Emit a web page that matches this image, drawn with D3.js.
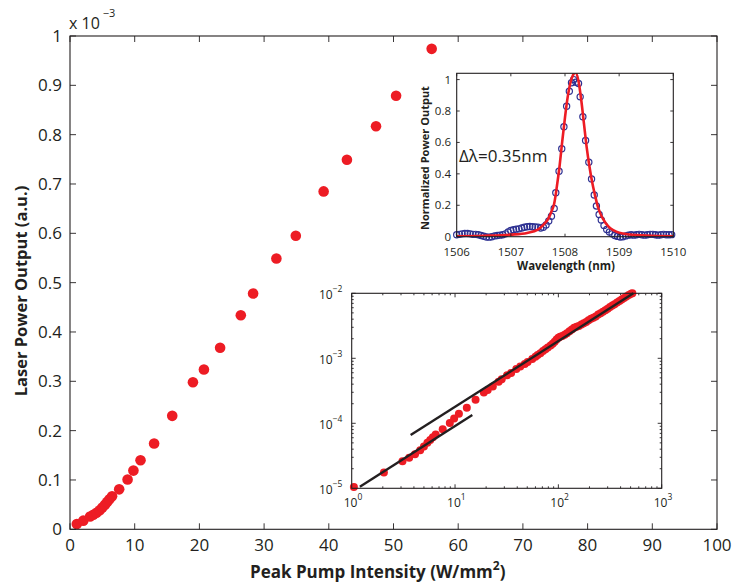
<!DOCTYPE html>
<html><head><meta charset="utf-8">
<script src="https://cdn.jsdelivr.net/npm/d3@7"></script>
<style>
body{margin:0;background:#fff}
text{font-family:"Open Sans",sans-serif;fill:#231f20}
</style>
</head><body>
<svg id="c" width="732" height="587"></svg>
<script>
// ---------- DATA ----------
// Main scatter (also shown in log-log inset)
const mainIntensity = [1.05,2.05,3.1,3.6,4.1,4.6,5.0,5.4,5.75,6.1,6.5,7.6,8.9,9.8,10.9,13.0,15.8,19.0,20.7,23.2,26.4,28.3,31.9,34.9,39.2,42.8,47.3,50.4,55.9];
const mainPower = [1.05e-5,1.75e-5,2.6e-5,2.95e-5,3.35e-5,3.85e-5,4.4e-5,5.0e-5,5.55e-5,6.1e-5,6.7e-5,8.1e-5,1.01e-4,1.19e-4,1.40e-4,1.74e-4,2.30e-4,2.98e-4,3.24e-4,3.68e-4,4.34e-4,4.78e-4,5.49e-4,5.95e-4,6.85e-4,7.49e-4,8.17e-4,8.79e-4,9.74e-4];
// Higher intensity points (only visible in log-log inset)
const extIntensity = [60,63,67,71,75,79,84,88,92,96,100,104,109,115,121,128,135,142,150,158,167,176,186,196,207,218,230,243,256,270,285,300,316,333,350,370,390,410,432,455,480,505,520];
const extPower = [1.06e-3,1.12e-3,1.2e-3,1.3e-3,1.38e-3,1.47e-3,1.58e-3,1.68e-3,1.8e-3,1.95e-3,2.08e-3,2.15e-3,2.2e-3,2.3e-3,2.42e-3,2.6e-3,2.78e-3,2.95e-3,3.05e-3,3.15e-3,3.3e-3,3.45e-3,3.62e-3,3.85e-3,4.05e-3,4.2e-3,4.4e-3,4.7e-3,4.95e-3,5.2e-3,5.5e-3,5.8e-3,6.15e-3,6.5e-3,6.8e-3,7.2e-3,7.6e-3,8.0e-3,8.45e-3,8.9e-3,9.4e-3,9.85e-3,1.0e-2];
// Fit lines in log-log inset (endpoints)
const fitLowX = [1.2, 14.7];
const fitLowY = [1.06e-5, 1.34e-4];
const fitHighX = [3.72, 532];
const fitHighY = [6.6e-5, 1.0e-2];
// Spectrum (measured, open circles)
const specWavelength = [1506.00,1506.05,1506.10,1506.15,1506.20,1506.25,1506.30,1506.35,1506.40,1506.45,1506.50,1506.55,1506.60,1506.65,1506.70,1506.75,1506.80,1506.85,1506.90,1506.95,1507.00,1507.05,1507.10,1507.15,1507.20,1507.25,1507.30,1507.35,1507.40,1507.45,1507.50,1507.55,1507.60,1507.65,1507.70,1507.75,1507.80,1507.83,1507.89,1507.94,1507.98,1508.03,1508.08,1508.12,1508.16,1508.20,1508.25,1508.28,1508.33,1508.38,1508.44,1508.49,1508.54,1508.58,1508.63,1508.67,1508.72,1508.77,1508.82,1508.87,1508.92,1508.97,1509.02,1509.07,1509.12,1509.17,1509.22,1509.27,1509.32,1509.37,1509.42,1509.47,1509.52,1509.57,1509.62,1509.67,1509.72,1509.77,1509.82,1509.87,1509.92,1509.97];
const specPower = [0.012,0.015,0.018,0.02,0.02,0.018,0.015,0.015,0.012,0.008,0.003,-0.002,-0.003,0.0,0.005,0.008,0.01,0.012,0.018,0.03,0.04,0.045,0.048,0.05,0.055,0.06,0.063,0.065,0.063,0.062,0.06,0.055,0.06,0.075,0.1,0.13,0.18,0.28,0.417,0.56,0.70,0.83,0.926,0.98,1.0,0.983,0.975,0.89,0.763,0.612,0.474,0.368,0.265,0.195,0.142,0.106,0.072,0.046,0.03,0.018,0.008,0.002,-0.002,0.0,0.005,0.01,0.012,0.01,0.012,0.015,0.012,0.01,0.012,0.015,0.015,0.012,0.01,0.012,0.015,0.012,0.012,0.013];
// Spectrum fit (red line)
const fitWavelength = [1506.0,1506.5,1507.0,1507.3,1507.5,1507.6,1507.7,1507.75,1507.8,1507.85,1507.9,1507.95,1508.0,1508.05,1508.1,1508.15,1508.19,1508.25,1508.3,1508.35,1508.4,1508.45,1508.5,1508.55,1508.6,1508.65,1508.7,1508.8,1508.9,1509.0,1509.2,1509.5,1510.0];
const fitPower = [0.003,0.006,0.013,0.024,0.045,0.075,0.12,0.16,0.21,0.32,0.45,0.61,0.76,0.89,0.98,1.03,1.045,0.99,0.87,0.72,0.57,0.45,0.35,0.27,0.2,0.15,0.115,0.065,0.04,0.025,0.014,0.008,0.003];
// Ticks
const mainXTicks = [0,10,20,30,40,50,60,70,80,90,100];
const mainYTicks = [0,1e-4,2e-4,3e-4,4e-4,5e-4,6e-4,7e-4,8e-4,9e-4,1e-3];
const mainYTickLabels = ["0","0.1","0.2","0.3","0.4","0.5","0.6","0.7","0.8","0.9","1"];
const specXTicks = [1506,1507,1508,1509,1510];
const specYTicks = [0,0.2,0.4,0.6,0.8,1];
const specYTickLabels = ["0","0.2","0.4","0.6","0.8","1"];
const logXTicks = [1,10,100,1000];
const logXExp = ["0","1","2","3"];
const logYTicks = [1e-5,1e-4,1e-3,1e-2];
const logYExp = ["\u22125","\u22124","\u22123","\u22122"];

// ---------- DRAW ----------
const svg = d3.select("#c");
svg.append("rect").attr("width",732).attr("height",587).attr("fill","#fff");
const RED = "#ed1c24", NAVY = "#2e3192";

function boxTicks(g, x, y, xt, yt, len, cls){
  const [x0,x1] = x.range(), [y0,y1] = y.range();
  g.append("g").attr("class",cls).selectAll("line.xb").data(xt).join("line")
    .attr("x1",d=>x(d)).attr("x2",d=>x(d)).attr("y1",y0).attr("y2",y0-len);
  g.append("g").attr("class",cls).selectAll("line.xt").data(xt).join("line")
    .attr("x1",d=>x(d)).attr("x2",d=>x(d)).attr("y1",y1).attr("y2",y1+len);
  g.append("g").attr("class",cls).selectAll("line.yl").data(yt).join("line")
    .attr("y1",d=>y(d)).attr("y2",d=>y(d)).attr("x1",x0).attr("x2",x0+len);
  g.append("g").attr("class",cls).selectAll("line.yr").data(yt).join("line")
    .attr("y1",d=>y(d)).attr("y2",d=>y(d)).attr("x1",x1).attr("x2",x1-len);
  g.selectAll("."+cls+" line").attr("stroke","#231f20").attr("stroke-width",0.9);
}

// Main plot
const mx = d3.scaleLinear().domain([0,100]).range([70,717]);
const my = d3.scaleLinear().domain([0,1e-3]).range([529.3,36]);
const gm = svg.append("g");
svg.append("clipPath").attr("id","mclip").append("rect")
  .attr("x",70).attr("y",36).attr("width",647).attr("height",493.3);
gm.append("g").attr("clip-path","url(#mclip)").selectAll("circle")
  .data(d3.zip(mainIntensity.concat(extIntensity), mainPower.concat(extPower))).join("circle")
  .attr("cx",d=>mx(d[0])).attr("cy",d=>my(d[1])).attr("r",5.3).attr("fill",RED);
boxTicks(gm, mx, my, mainXTicks, mainYTicks, 6, "mt");
gm.append("rect").attr("x",70).attr("y",36).attr("width",647).attr("height",493.3)
  .attr("fill","none").attr("stroke","#231f20").attr("stroke-width",1.1);
gm.append("g").selectAll("text").data(mainXTicks).join("text")
  .attr("x",d=>mx(d)).attr("y",551).attr("text-anchor","middle")
  .attr("font-size",17).text(d=>d);
gm.append("g").selectAll("text").data(mainYTicks).join("text")
  .attr("x",62).attr("y",d=>my(d)+6).attr("text-anchor","end")
  .attr("font-size",17).text((d,i)=>mainYTickLabels[i]);
const ex = gm.append("text").attr("x",69).attr("y",29).attr("font-size",16);
ex.append("tspan").text("x 10");
ex.append("tspan").attr("dx",3).attr("dy",-12).attr("font-size",11).text("\u22123");
gm.append("text").attr("transform","translate(27,291) rotate(-90)")
  .attr("text-anchor","middle").attr("font-size",16.5).attr("font-weight","bold")
  .text("Laser Power Output (a.u.)");
const xl = gm.append("text").attr("x",250).attr("y",578).attr("font-size",17).attr("font-weight","bold");
xl.append("tspan").text("Peak Pump Intensity (W/mm");
xl.append("tspan").attr("dy",-8).attr("font-size",12).text("2");
xl.append("tspan").attr("dy",8).text(")");

// Spectrum inset
const sx = d3.scaleLinear().domain([1506,1510]).range([456.7,673.3]);
const sy = d3.scaleLinear().domain([0,1.04]).range([236.7,73.3]);
const gs = svg.append("g");
gs.append("rect").attr("x",456.7).attr("y",73.3).attr("width",216.6).attr("height",163.4).attr("fill","#fff");
svg.append("clipPath").attr("id","sclip").append("rect")
  .attr("x",456.7).attr("y",73.3).attr("width",216.6).attr("height",163.4);
gs.append("g").selectAll("circle").data(d3.zip(specWavelength,specPower)).join("circle")
  .attr("cx",d=>sx(d[0])).attr("cy",d=>sy(d[1])).attr("r",3.1)
  .attr("fill","none").attr("stroke",NAVY).attr("stroke-width",1.2);
gs.append("path").attr("clip-path","url(#sclip)")
  .attr("d",d3.line().x(d=>sx(d[0])).y(d=>sy(d[1])).curve(d3.curveMonotoneX)(d3.zip(fitWavelength,fitPower)))
  .attr("fill","none").attr("stroke",RED).attr("stroke-width",2.6);
boxTicks(gs, sx, sy, specXTicks, specYTicks, 3, "st");
gs.append("rect").attr("x",456.7).attr("y",73.3).attr("width",216.6).attr("height",163.4)
  .attr("fill","none").attr("stroke","#231f20").attr("stroke-width",1.1);
gs.append("g").selectAll("text").data(specXTicks).join("text")
  .attr("x",d=>sx(d)).attr("y",256).attr("text-anchor","middle").attr("font-size",11.5).text(d=>d);
gs.append("g").selectAll("text").data(specYTicks).join("text")
  .attr("x",451).attr("y",d=>sy(d)+4).attr("text-anchor","end").attr("font-size",11.5)
  .text((d,i)=>specYTickLabels[i]);
gs.append("text").attr("x",566).attr("y",270).attr("text-anchor","middle")
  .attr("font-size",11.5).attr("font-weight","bold").text("Wavelength (nm)");
gs.append("text").attr("transform","translate(429,158) rotate(-90)").attr("text-anchor","middle")
  .attr("font-size",11).attr("font-weight","bold").text("Normalized Power Output");
gs.append("text").attr("x",459).attr("y",162).attr("font-size",17).text("\u0394\u03bb=0.35nm");

// Log-log inset
const lx = d3.scaleLog().domain([1,1000]).range([351.7,661.7]);
const ly = d3.scaleLog().domain([1e-5,1e-2]).range([488.3,293.3]);
const gl = svg.append("g");
gl.append("rect").attr("x",351.7).attr("y",293.3).attr("width",310).attr("height",195).attr("fill","#fff");
const minorX = lx.ticks().filter(d=>!logXTicks.includes(d));
const minorY = ly.ticks().filter(d=>!logYTicks.some(t=>Math.abs(t-d)/t<1e-6));
boxTicks(gl, lx, ly, minorX, minorY, 2, "lmin");
boxTicks(gl, lx, ly, logXTicks, logYTicks, 4, "lmaj");
gl.append("g").selectAll("circle")
  .data(d3.zip(mainIntensity.concat(extIntensity), mainPower.concat(extPower))).join("circle")
  .attr("cx",d=>lx(d[0])).attr("cy",d=>ly(d[1])).attr("r",4).attr("fill",RED);
gl.append("path").attr("d",d3.line().x(d=>lx(d[0])).y(d=>ly(d[1]))(d3.zip(fitLowX,fitLowY)))
  .attr("stroke","#231f20").attr("stroke-width",2.4).attr("fill","none");
gl.append("path").attr("d",d3.line().x(d=>lx(d[0])).y(d=>ly(d[1]))(d3.zip(fitHighX,fitHighY)))
  .attr("stroke","#231f20").attr("stroke-width",2.4).attr("fill","none");
gl.append("rect").attr("x",351.7).attr("y",293.3).attr("width",310).attr("height",195)
  .attr("fill","none").attr("stroke","#231f20").attr("stroke-width",1.1);
logXTicks.forEach((d,i)=>{
  const t = gl.append("text").attr("x",lx(d)-8).attr("y",507).attr("font-size",12);
  t.append("tspan").text("10");
  t.append("tspan").attr("dy",-7).attr("font-size",8.5).text(logXExp[i]);
});
logYTicks.forEach((d,i)=>{
  const t = gl.append("text").attr("x",319).attr("y",ly(d)+6).attr("font-size",12);
  t.append("tspan").text("10");
  t.append("tspan").attr("dy",-7).attr("font-size",8.5).text(logYExp[i]);
});
</script>
</body></html>
